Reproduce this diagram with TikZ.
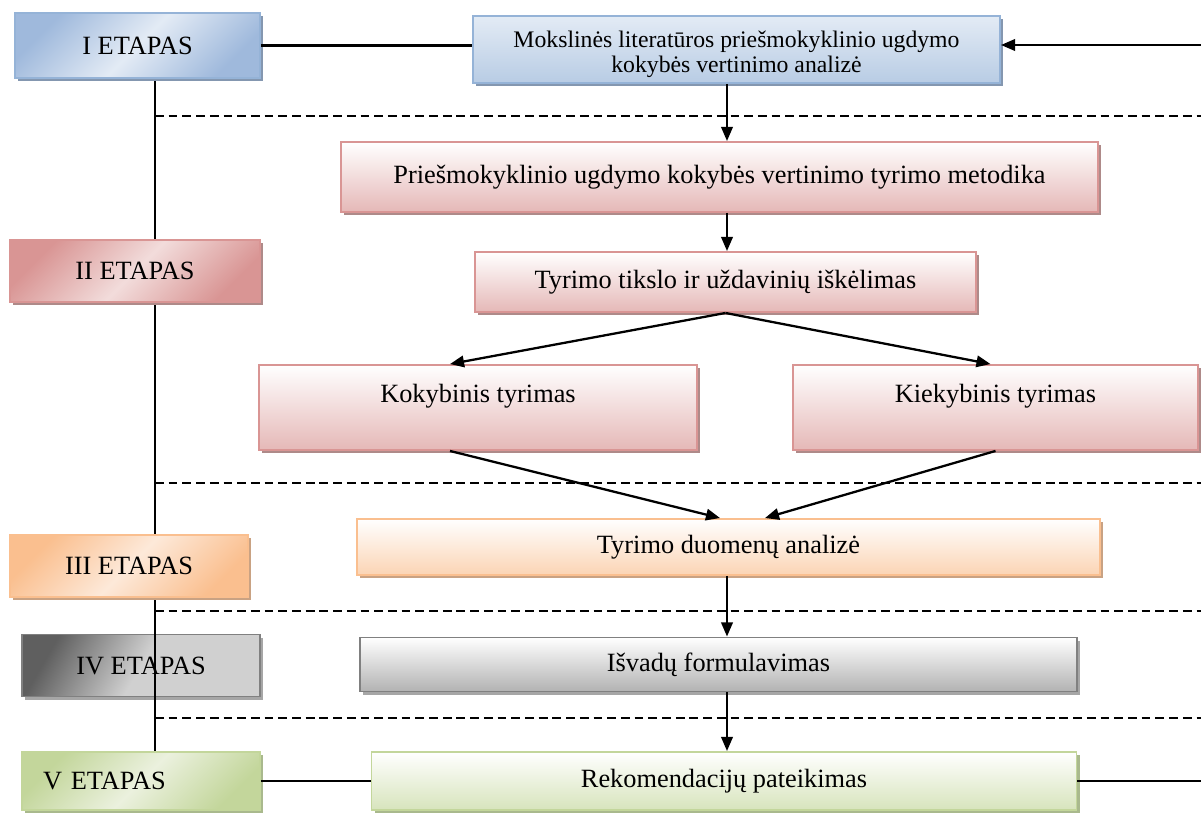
\documentclass[tikz,border=0pt]{standalone}
\usepackage{fontspec}
\setmainfont{Liberation Serif}
\usetikzlibrary{arrows.meta,shadows,backgrounds}

\definecolor{blueline}{HTML}{95B3D7}
\definecolor{bluetop}{HTML}{E3EBF5}
\definecolor{bluebot}{HTML}{B8CCE4}
\definecolor{blueshade}{HTML}{8497B0}
\definecolor{bluecorner}{HTML}{9FB9DC}
\definecolor{pinkline}{HTML}{D99594}
\definecolor{pinkbot}{HTML}{E5B8B7}
\definecolor{pinkshade}{HTML}{AE8A89}
\definecolor{pinkmid}{HTML}{F2DCDB}
\definecolor{orangeline}{HTML}{FABF8F}
\definecolor{orangebot}{HTML}{FBD4B4}
\definecolor{orangeshade}{HTML}{C9A283}
\definecolor{orangemid}{HTML}{FDE9D9}
\definecolor{grayline}{HTML}{808080}
\definecolor{graybot}{HTML}{B2B2B2}
\definecolor{grayshade}{HTML}{A6A6A6}
\definecolor{graydark}{HTML}{5F5F5F}
\definecolor{graylight}{HTML}{D0D0D0}
\definecolor{greenline}{HTML}{C3D69B}
\definecolor{greenbot}{HTML}{D7E4BC}
\definecolor{greenshade}{HTML}{A9B98D}
\definecolor{greenmid}{HTML}{EBF1DE}

\tikzset{every path/.style={line width=1pt}}
\tikzset{
  boxsize/.style 2 args={minimum width=#1*0.02cm, minimum height=#2*0.02cm},
  box/.style={inner sep=0pt, line width=1.1pt, text=black, font=\fontsize{15pt}{18pt}\selectfont},
  bluebox/.style={box, draw=blueline, top color=bluetop, bottom color=bluebot,
    general shadow={fill=blueshade, shadow xshift=0.06cm, shadow yshift=-0.06cm}},
  bluestage/.style={box, draw=blueline, left color=bluecorner, right color=bluecorner,
    middle color=bluetop, shading angle=45,
    general shadow={fill=blueshade, shadow xshift=0.06cm, shadow yshift=-0.06cm}},
  pinkbox/.style={box, draw=pinkline, top color=white, bottom color=pinkbot,
    general shadow={fill=pinkshade, shadow xshift=0.06cm, shadow yshift=-0.06cm}},
  pinkstage/.style={box, draw=pinkline, left color=pinkline, right color=pinkline,
    middle color=pinkmid, shading angle=45,
    general shadow={fill=pinkshade, shadow xshift=0.06cm, shadow yshift=-0.06cm}},
  orangebox/.style={box, draw=orangeline, top color=white, bottom color=orangebot,
    general shadow={fill=orangeshade, shadow xshift=0.06cm, shadow yshift=-0.06cm}},
  orangestage/.style={box, draw=orangeline, left color=orangeline, right color=orangeline,
    middle color=orangemid, shading angle=45,
    general shadow={fill=orangeshade, shadow xshift=0.06cm, shadow yshift=-0.06cm}},
  graybox/.style={box, draw=grayline, top color=white, bottom color=graybot,
    general shadow={fill=grayshade, shadow xshift=0.06cm, shadow yshift=-0.06cm}},
  graystage/.style={box, draw=grayline, left color=graydark, right color=graylight,
    middle color=graylight, shading angle=60,
    general shadow={fill=grayshade, shadow xshift=0.06cm, shadow yshift=-0.06cm}},
  greenbox/.style={box, draw=greenline, top color=white, bottom color=greenbot,
    general shadow={fill=greenshade, shadow xshift=0.06cm, shadow yshift=-0.06cm}},
  greenstage/.style={box, draw=greenline, left color=greenline, right color=greenline,
    middle color=greenmid, shading angle=45,
    general shadow={fill=greenshade, shadow xshift=0.06cm, shadow yshift=-0.06cm}},
  conn/.style={line width=1.3pt},
  arr/.style={conn, -{Triangle[length=8pt,width=6.5pt]}},
  sep/.style={line width=1.1pt, dash pattern=on 5pt off 2.8pt}
}

\begin{document}
\begin{tikzpicture}[x=0.02cm,y=-0.02cm]
\useasboundingbox (0,0) rectangle (1201,812);

\coordinate (col) at (727,0);
\coordinate (vx) at (155,0);
\coordinate (inR) at (1201,45);
\coordinate (outR) at (1201,781);

\node[bluestage, boxsize={245}{65}] (S1) at (137.5,45.5) {I ETAPAS};
\node[bluebox, boxsize={527}{67},
  label={[font=\fontsize{13.5pt}{14.2pt}\selectfont, align=center, yshift=-0.09cm]center:Mokslinės literatūros priešmokyklinio ugdymo\\kokybės vertinimo analizė}]
  (B1) at (736.5,49.5) {};
\node[pinkbox, boxsize={757}{70}] (B2) at (719.5,177)
  {Priešmokyklinio ugdymo kokybės vertinimo tyrimo metodika};
\node[pinkstage, boxsize={250}{62}] (S2) at (135,271) {II ETAPAS};
\node[pinkbox, boxsize={501}{60}] (B3) at (725.5,282) {Tyrimo tikslo ir uždavinių iškėlimas};
\node[pinkbox, minimum width=438*0.02cm, text height=0.74cm, text depth=0.96cm]
  (B4) at (478,407.5) {Kokybinis tyrimas};
\node[pinkbox, minimum width=405*0.02cm, text height=0.74cm, text depth=0.96cm]
  (B5) at (995.5,407.5) {Kiekybinis tyrimas};
\node[orangebox, boxsize={743}{56}] (B6) at (728.5,547) {Tyrimo duomenų analizė};
\node[orangestage, boxsize={238}{62}] (S3) at (129,566) {III ETAPAS};
\node[graybox, boxsize={717}{54}] (B7) at (718.5,664.5) {Išvadų formulavimas};
\node[greenbox, boxsize={705}{58}] (B8) at (724,781) {Rekomendacijų pateikimas};
\node[greenstage, boxsize={238}{58}, inner xsep=0.42cm, text width=3.92cm, align=left]
  (S5) at (141,781) {V ETAPAS};

\begin{pgfonlayer}{background}
\node[graystage, boxsize={238}{62}] (S4) at (141,665.5) {IV ETAPAS};
\draw[conn] (S1.south -| vx) -- (S5.north -| vx);
\end{pgfonlayer}

\foreach \yy in {116,483,611,718}
  \draw[sep] (155,\yy) -- (1201,\yy);

\draw[conn] (S1.east) -- (S1.east -| B1.west);
\draw[arr] (inR) -- (inR -| B1.east);
\draw[arr] (B1.south -| col) -- (B2.north -| col);
\draw[arr] (B2.south -| col) -- (B3.north -| col);
\draw[arr] (B3.south) -- ([xshift=-0.56cm]B4.north);
\draw[arr] (B3.south) -- ([xshift=-0.1cm]B5.north);
\draw[arr] ([xshift=-0.56cm]B4.south) -- ([xshift=-0.17cm]B6.north);
\draw[arr] (B5.south) -- ([xshift=0.73cm]B6.north);
\draw[arr] (B6.south -| col) -- (B7.north -| col);
\draw[arr] (B7.south -| col) -- (B8.north -| col);
\draw[conn] (S5.east) -- (S5.east -| B8.west);
\draw[conn] (B8.east) -- (outR);

\end{tikzpicture}
\end{document}
